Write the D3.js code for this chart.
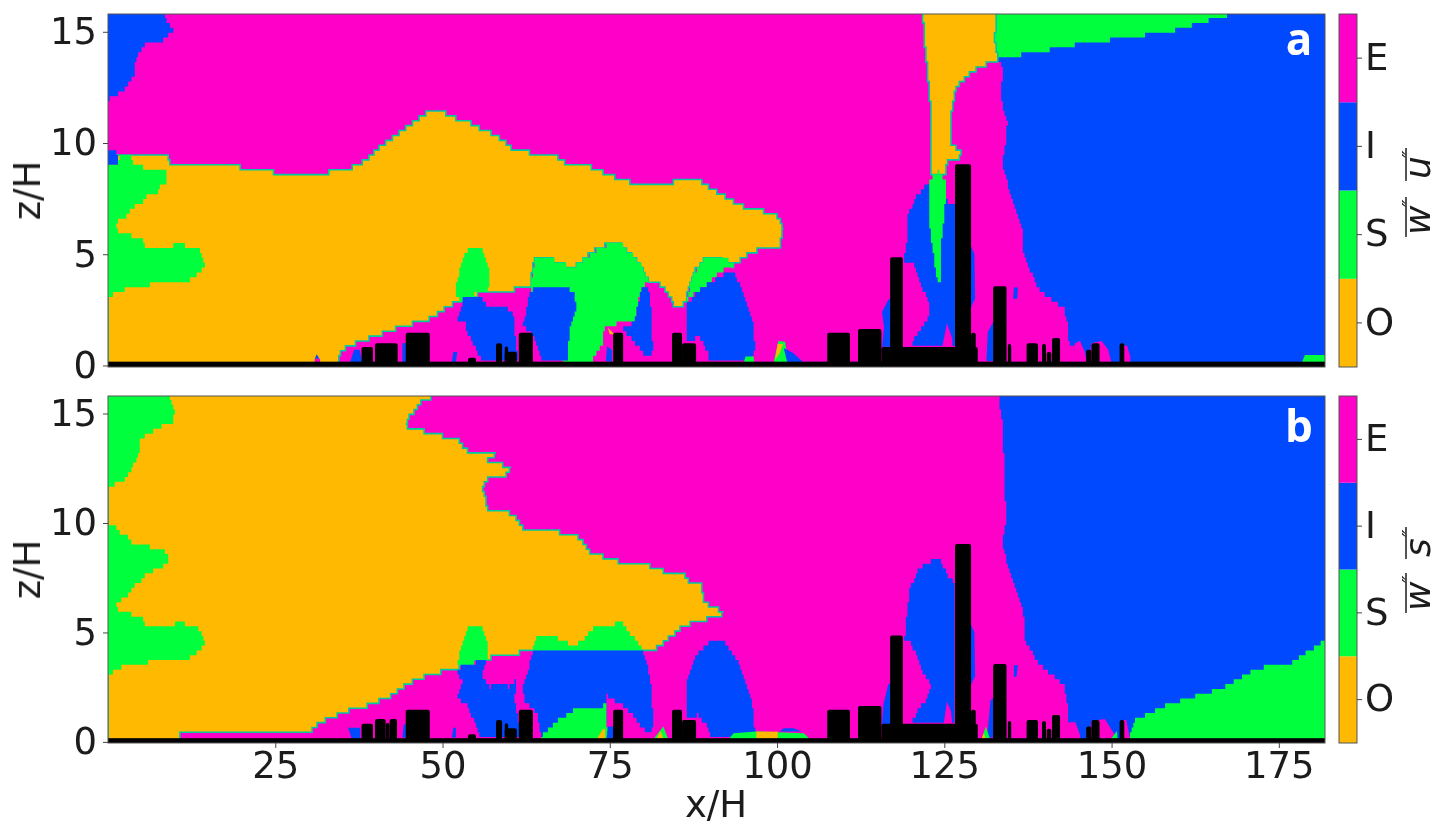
<!DOCTYPE html>
<html>
<head>
<meta charset="utf-8">
<script src="https://cdn.jsdelivr.net/npm/d3@7"></script>
<style>
html, body { margin: 0; padding: 0; background: #fff; }
svg { display: block; }
text { font-family: "DejaVu Sans"; fill: #1a1a1a; }
</style>
</head>
<body>
<script>
// quadrant categories, bottom to top of the colour bar
var categories = ['O', 'S', 'I', 'E'];
var categoryColors = ['#ffb900', '#00ff3c', '#0048ff', '#ff00c8'];
var zTicks = [0, 5, 10, 15];
var xTicks = [25, 50, 75, 100, 125, 150, 175];

// all outlines below are [x/H, z/H]

// panel a
var aBlueRight = [[132.4,15.8],[132.8,13.73],[133.8,13.4],[133.4,12.05],[134.4,10.87],[134.3,10.1],[133.6,9.14],[135,7.57],[136,6.6],[136.8,5.94],[136.8,5.18],[137.8,4.28],[139,3.47],[141,2.94],[142.8,2.58],[143.5,1.9],[143.4,1.07],[144.6,0.7],[145.3,0.25],[145.3,0],[182,0],[182,15.8]];
var aGreenWedge = [[132.7,15.8],[168.2,15.8],[165.5,15.57],[163.2,15.42],[160.5,15.12],[158,14.97],[152.8,14.75],[148,14.56],[143.5,14.37],[139.8,14.12],[135.6,13.92],[132.9,13.73],[132.4,14.5]];
var aOrangeMain = [[0,9.36],[3.5,9.36],[9,9.36],[9.3,9.1],[19.3,9.1],[19.7,8.9],[22.2,8.9],[22.4,8.7],[24.7,8.7],[25,8.47],[32.7,8.47],[32.9,8.7],[34.7,8.7],[35,8.9],[36.4,8.9],[36.6,9.1],[37.9,9.1],[39.2,9.44],[40.4,9.75],[42.6,10.26],[44.7,10.7],[46.9,11.2],[47.8,11.43],[50.4,11.43],[50.7,11.2],[53.6,11],[55.1,10.7],[56.8,10.56],[58.6,10.2],[60.1,9.8],[62,9.66],[64.3,9.44],[67.3,9.35],[67.6,9.14],[70.1,9.1],[72.8,8.85],[75,8.54],[78.8,8.17],[84.3,8.1],[84.5,8.29],[88.5,8.29],[90.5,7.87],[93.7,7.35],[96,7],[98.7,6.9],[100.4,6.67],[100.9,6.08],[100.4,5.36],[97,5.18],[95.5,4.95],[93.4,4.5],[90.5,4.9],[89,4.73],[87.5,4.14],[86.3,2.8],[85,2.58],[83.3,3.38],[82.5,3.7],[80.8,3.75],[79.5,4.6],[76.5,5.5],[75.5,5.5],[73.3,5.27],[70.6,4.64],[69.5,4.37],[67.3,4.64],[65.6,4.87],[63.8,4.87],[63.1,3.52],[61.1,3.52],[60.5,3.34],[57.1,3.34],[53,3],[50.6,2.58],[48.6,2.13],[44.7,1.8],[42.6,1.6],[39.2,1.23],[36.2,0.9],[34.7,0.55],[34.4,0.1],[34.4,0],[0,0]];
var aOrangeFunnel = [[121.8,15.8],[132.7,15.8],[132.6,14.6],[133,13.73],[130.8,13.47],[128.4,13.03],[126.6,12.35],[126.1,11.46],[126,10.04],[127.6,9.48],[126.6,9.14],[125.6,9.2],[125,8.54],[124.1,8.65],[122.9,8.47],[122.9,11.9],[122.1,14.45]];
var aGreenLeft = [[0,9.04],[1.5,9.04],[1.8,9.48],[3.3,9.44],[3.7,9.1],[5,9.08],[5.2,8.9],[7.8,8.86],[8.9,8.63],[8.8,8.24],[7.8,8.18],[7.5,7.78],[6,7.74],[5.2,7.33],[4.2,7.33],[3.7,6.97],[3,6.88],[2.4,6.57],[1.5,6.52],[1.15,6.3],[1.5,5.95],[3.3,5.94],[3.5,5.7],[5.2,5.63],[5.5,5.33],[9.7,5.33],[10,5.49],[11.2,5.49],[11.5,5.33],[13.3,5.31],[14,4.95],[14.5,4.59],[14,4.2],[12.3,3.92],[12,3.76],[6.3,3.71],[6,3.53],[3.5,3.52],[1.8,3.31],[0.55,3.16],[0.1,2.94],[0,2.9]];
var aBlueTop = [[0,15.8],[8.2,15.8],[9.7,15.04],[8.1,14.6],[5.5,14.4],[4.8,14.15],[4.2,13.8],[4,13.1],[3.3,12.7],[2.2,12.3],[0.8,12.1],[0,11.9]];
var aBlueCorner = [[0,9.66],[1.2,9.66],[1.6,9.1],[0,9.1]];
var aGreenBlob1 = [[57.1,4.15],[56.6,4.73],[55.9,5.27],[53.8,5.31],[53.1,4.73],[52.3,3.97],[51.9,3.31],[52.6,2.8],[55.1,3.25],[56.8,3.25]];
var aGreenBlob2 = [[63.1,3.43],[63.8,4.82],[65.6,4.88],[67.3,4.65],[69.5,4.37],[70.6,4.65],[73.3,5.27],[75.5,5.49],[76.5,5.49],[79.5,4.6],[80.7,3.76],[79.8,3.53],[79.2,2.8],[78.8,1.96],[76.5,1.9],[74.3,1.68],[73.8,0.84],[72.5,0.25],[72.5,0],[68,0],[66,3]];
var aGreenBlob3 = [[90.5,4.9],[92.5,4.8],[93.4,4.5],[92,4.28],[90,3.76],[88,3.31],[86.5,2.9],[87.5,4.14],[89,4.73]];
var aBlue1 = [[52.1,2.04],[53.1,2.98],[55.9,3.16],[56.1,2.86],[57.4,2.53],[59.3,2.67],[60.8,2.19],[60.8,1.46],[61.3,0.17],[56.1,0.17],[55.1,0.7],[53.6,1.59],[53.6,1.9]];
var aBlue2 = [[63.1,3.39],[67.8,3.61],[69.5,3.31],[70.1,2.64],[69.1,1.74],[68.6,0.17],[64.8,0.17],[64.1,1],[63.3,1.46],[62,1.74],[62.6,2.64]];
var aBlue3 = [[80,3.61],[80.7,3.61],[81.3,2.35],[81.4,0.56],[80.3,0.47],[77,1.68],[78.8,1.96],[79.2,2.8]];
var aBlue4 = [[86.5,2.71],[88,3.31],[90.5,3.83],[93.2,4.28],[95,3.25],[96.5,1.74],[96.7,0.84],[96.2,0.17],[90,0.17],[89.7,0.56],[88.5,1.29],[86.5,1.07]];
var aBlueTower = [[122.7,8.18],[120.9,7.65],[119.6,6.75],[119.3,5.18],[118.9,4.7],[120.4,4.65],[121.4,3.69],[123,2.64],[122.4,1.96],[121.1,1.51],[120.1,0.84],[127,0.84],[127,7.1],[125.3,7.42],[125,7.87],[125.4,8.18]];
var aGreenSliver = [[124.1,8.69],[125.4,8.18],[125.1,7.12],[124.6,5.63],[124.4,3.83],[123.9,3.83],[123.1,5.63],[122.7,6.52],[122.8,8.4]];
var aSmall = [
  ['E', [[125.4,1.9],[124.7,0.84],[126.2,0.84],[126.2,1.2]]],
  ['I', [[128.8,5.5],[129.5,5],[129.6,3],[128.8,2.5]]],
  ['I', [[115.7,0.84],[116,1.7],[115.7,2.4],[116.6,2.94],[117.5,3.1],[117.5,0.84]]],
  ['I', [[131.3,0.2],[131.5,1.5],[132.4,2],[132.4,0.2]]],
  ['I', [[135.3,3],[135.4,3.5],[136,3.5],[135.9,3]]],
  ['E', [[146.5,0.1],[147,1],[148.5,1.1],[149.5,0.7],[150,0.1]]],
  ['E', [[151.7,0.1],[151.7,0.9],[152.3,0.9],[152.8,0.4],[152.8,0.1]]],
  ['E', [[144.3,0.1],[144.5,1],[145.3,1.1],[146,0.6],[146.3,0.1]]],
  ['S', [[178.4,0.1],[178.9,0.47],[182,0.47],[182,0.1]]],
  ['E', [[30.9,0.1],[30.9,0.3],[31.7,0.3],[31.7,0.1]]],
  ['I', [[30.9,0.3],[31.2,0.5],[31.6,0.3]]],
  ['I', [[36.2,0.15],[36.8,0.7],[37.6,0.7],[38,0.15]]],
  ['I', [[44,0.15],[44,1],[44.7,1],[44.7,0.15]]],
  ['I', [[51.4,0.15],[51.6,0.6],[52.2,0.6],[52,0.15]]],
  ['I', [[74.4,0.2],[74.6,0.85],[75.3,0.7],[75.3,0.17]]],
  ['O', [[74.7,1.7],[75.7,1.4],[75,1.4]]],
  ['S', [[99.5,0.15],[100.2,1.1],[101.2,1.07],[101.7,0.15]]],
  ['O', [[99.7,0.25],[100.1,0.96],[100.9,0.96],[100.4,0.56]]],
  ['I', [[101,0.78],[102.4,0.56],[103.9,0.15],[101.5,0.15]]],
  ['S', [[95,0.1],[95.3,0.4],[96.5,0.4],[96.6,0.1]]]
];

// panel b
var bBlueRight = [[133.1,15.78],[133.8,14.2],[134,11.5],[134.3,10.1],[133.6,9.06],[135.1,7.39],[136.8,6],[137.1,4.65],[138.6,3.74],[140.8,3.13],[143,2.52],[143.5,1.46],[143.6,0.8],[144,0],[182,0],[182,15.78]];
var bGreenRight = [[152.4,0.1],[153.5,1.08],[155.2,1.23],[157.7,1.61],[162.2,2.07],[166.5,2.45],[169.2,2.9],[171.7,3.36],[176.7,3.59],[181.9,4.65],[182,0]];
var bOrangeMain = [[0,15.78],[48.9,15.78],[47.1,15.6],[46.1,15.2],[45.3,14.96],[44.9,14.68],[44.6,14.41],[46.4,14.35],[46.6,14.2],[49.9,14.15],[50.1,13.95],[52.4,13.92],[52.6,13.59],[54.4,13.13],[57.9,13.09],[56.8,12.98],[56.8,12.68],[60.2,12.63],[60,12.4],[59.5,12.18],[57.1,12.13],[55.9,11.64],[56.6,10.88],[56.9,10.58],[59.3,10.55],[60.8,10.35],[62,9.79],[67.3,9.7],[67.6,9.52],[69.6,9.44],[70.6,9.29],[71.3,8.91],[72.3,8.6],[73.5,8.5],[76.5,8.22],[78.8,8.07],[82.8,8],[83,7.81],[85.8,7.77],[86.5,7.46],[87.3,7.2],[88.7,7.16],[89.1,6.4],[90.5,6.1],[92,6],[91.5,5.71],[90.8,5.69],[87.3,5.44],[85.8,5.2],[82,4.27],[80.2,4.12],[70.6,4.12],[63.5,4.2],[62.8,4.12],[59.1,3.97],[56.1,3.77],[52.1,3.37],[50.4,3.25],[46.6,2.9],[45.1,2.68],[42.2,2.06],[39.2,1.69],[36.2,1.43],[33.2,1.08],[30.7,0.64],[30.5,0.42],[10.8,0.42],[10.8,0],[0,0]];
var bGreenTop = [[0,15.78],[9,15.78],[10,15.14],[9.7,14.6],[8.2,14.54],[8,14.3],[6,14.1],[4.8,13.8],[4.6,13.2],[3.7,12.5],[2.5,12],[0.8,11.7],[0,11.5]];
var bGreenLeft = [[0,9.94],[1,9.9],[1.8,9.5],[2.8,9.44],[3.7,9.09],[6,9.06],[6.3,8.88],[7.8,8.84],[9,8.53],[8.9,8.22],[7.5,7.84],[6,7.77],[5.2,7.39],[4.2,7.31],[3.7,6.93],[2.4,6.52],[1.3,6.44],[1.15,6.25],[1.5,5.9],[3.3,5.84],[5.2,5.71],[5.5,5.29],[9.7,5.29],[10,5.52],[11.2,5.52],[11.5,5.29],[13.3,5.24],[14,4.97],[14.5,4.57],[14,4.2],[12.3,3.89],[12,3.77],[6.3,3.77],[6,3.6],[3.5,3.56],[1.8,3.37],[0.55,3.16],[0.1,2.96],[0,2.9]];
var bGreenBlob1 = [[56.8,3.89],[56.8,4.57],[55.9,5.26],[53.9,5.26],[52.9,4.5],[52.1,3.43],[56.4,3.77]];
var bGreenBlob2 = [[63.3,4.2],[64.1,4.83],[66.5,4.83],[69.5,4.38],[70.6,4.57],[72.8,5.26],[75.3,5.34],[76.8,5.49],[77.8,5.03],[79,4.65],[80.2,4.12],[70.6,4.12]];
var bBlueWide = [[63.6,4.2],[70.6,4.12],[80,4.07],[81,2.98],[81.5,1.15],[81.3,0.47],[80.5,0.47],[77.5,1.54],[76,1.84],[74.5,2.14],[74.3,0.1],[64.8,0.27],[64.1,1.3],[62.3,1.9],[62,2.44]];
var bGreenLow = [[64.8,0.27],[66.5,0.82],[69.5,1.46],[70.6,1.46],[74.5,1.69],[74.7,0.1],[64.8,0.1]];
var bBlue1 = [[52.1,3.36],[56.6,3.77],[56.1,3.21],[56.1,2.83],[57.1,2.52],[59.3,2.67],[59.8,2.45],[61,2.83],[60.8,1.92],[61.3,1],[61.6,0.24],[55.6,0.24],[54.9,0.85],[53.6,1.76],[52.1,1.99],[52.9,2.75]];
var bBlueHump = [[86.6,2.83],[88,4.04],[89.7,4.53],[92,4.57],[94,3.74],[95.2,2.83],[96.5,1.46],[96.7,0.24],[90,0.24],[89.7,0.7],[88.2,1.23],[86.5,1]];
var bBlueTower = [[123.9,8.42],[122.4,8.15],[121.1,7.84],[119.9,7],[119.4,5.71],[119.1,4.65],[119.9,4.62],[121.4,3.43],[123,2.6],[122.4,1.92],[120.9,1.38],[120.1,0.82],[126.4,0.82],[126.6,7.23],[125.4,7.69],[124.6,8.22]];
var bSmall = [
  ['E', [[124.9,0.82],[125.4,1.84],[126,1.4],[126.2,0.82]]],
  ['I', [[128.8,5.5],[129.5,5],[129.6,3],[128.8,2.5]]],
  ['I', [[115.7,0.82],[115.9,1.7],[116.6,2.6],[117.5,2.9],[117.5,0.82]]],
  ['I', [[131.4,0.2],[131.9,1.9],[132.3,2],[132.3,0.2]]],
  ['S', [[130.6,0.15],[131.2,0.7],[131.8,0.15]]],
  ['O', [[130.6,0.15],[130.9,0.4],[131.2,0.15]]],
  ['I', [[135.4,2.98],[135.4,3.5],[136,3.5],[135.8,2.98]]],
  ['E', [[143.5,0.1],[143.6,0.9],[144.6,0.9],[145.3,0.3],[145.3,0.1]]],
  ['E', [[146.5,0.1],[147,0.95],[149,1.05],[150,0.55],[151,0.1]]],
  ['S', [[149.8,0.1],[150.8,0.5],[150.9,0.1]]],
  ['E', [[151.5,0.1],[151.7,1],[152.2,1],[152.8,0.1]]],
  ['I', [[51.4,0.2],[51.6,0.65],[52,0.65],[52,0.2]]],
  ['I', [[35.9,0.65],[37.7,0.65],[37.7,0.1],[36.5,0.1]]],
  ['I', [[44,0.2],[44.2,0.8],[44.7,0.8],[44.7,0.2]]],
  ['I', [[74.5,0.1],[74.7,0.7],[75.5,0.7],[75.5,0.1]]],
  ['O', [[73,0.1],[74,0.6],[74.3,0.6],[74.3,0.1]]],
  ['S', [[92.7,0.1],[93.5,0.4],[96.9,0.47],[104,0.4],[105,0.1]]],
  ['O', [[96.9,0.1],[96.9,0.47],[100.1,0.47],[100.1,0.1]]],
  ['I', [[100.4,0.47],[101,0.62],[102.5,0.62],[103.7,0.47]]],
  ['S', [[81.6,0.15],[83,0.7],[83.7,0.15]]],
  ['O', [[82,0.15],[82.6,0.5],[83,0.15]]]
];

var aRegions = [['I', aBlueRight], ['S', aGreenWedge], ['O', aOrangeMain], ['O', aOrangeFunnel], ['S', aGreenLeft], ['I', aBlueTop], ['I', aBlueCorner], ['S', aGreenBlob1], ['S', aGreenBlob2], ['S', aGreenBlob3], ['I', aBlue1], ['I', aBlue2], ['I', aBlue3], ['I', aBlue4], ['I', aBlueTower], ['S', aGreenSliver]];
var bRegions = [['I', bBlueRight], ['S', bGreenRight], ['O', bOrangeMain], ['S', bGreenTop], ['S', bGreenLeft], ['S', bGreenBlob1], ['S', bGreenBlob2], ['I', bBlueWide], ['S', bGreenLow], ['I', bBlue1], ['I', bBlueHump], ['I', bBlueTower]];

// buildings as [x start, x end, height]
var buildings = [[53.8,55,0.35],[58,58.9,1],[59.3,59.8,0.85],[59.3,61.1,0.62],[61.4,63.5,1.47],[75.5,77,1.47],[84.3,85.8,1.47],[85.8,87.9,1],[107.5,110.9,1.47],[112.1,115.6,1.64],[115.6,130,0.83],[116.9,118.8,4.86],[126.6,129,9.04],[129,129.7,1.47],[132.3,134.3,3.56],[134.5,135,0.96],[137.3,139,1],[139.6,140.2,0.96],[140.3,141,0.6],[141.1,142.3,1.23],[146.2,147,0.7],[147,148.2,1],[151.2,151.9,1],[37.9,39.6,0.83],[44.5,48.1,1.47]];
var aLowBuildings = [[39.9,43.3,1]];
var bLowBuildings = [[39.9,41.5,1.05],[41.5,42.1,0.86],[42.1,43.2,1.05]];

var width = 1437, height = 826;
var svg = d3.select('body').append('svg').attr('width', width).attr('height', height);

var defs = svg.append('defs');
// the reference is a slightly soft raster
defs.append('filter').attr('id', 'soft')
    .append('feGaussianBlur').attr('stdDeviation', 0.55);
var root = svg.append('g').attr('filter', 'url(#soft)');

var color = d3.scaleOrdinal().domain(categories).range(categoryColors);
var x = d3.scaleLinear().domain([0, 181.9]).range([108, 1325]);

// the field is on a mesh, so edges come out as stairs
var dx = 0.25, dz = 0.22;
function stairs(points) {
    var out = [];
    points.forEach(function(p, i) {
        var q = points[(i + 1) % points.length];
        var n = Math.ceil(Math.max(Math.abs(q[0] - p[0]) / 0.1, Math.abs(q[1] - p[1]) / 0.05)) || 1;
        for (var k = 0; k < n; k++) {
            var sx = Math.round((p[0] + (q[0] - p[0]) * k / n) / dx) * dx;
            var sz = Math.round((p[1] + (q[1] - p[1]) * k / n) / dz) * dz;
            var last = out[out.length - 1];
            if (!last) { out.push([sx, sz]); continue; }
            if (last[0] !== sx && last[1] !== sz) out.push([sx, last[1]]);
            if (last[0] !== sx || last[1] !== sz) out.push([sx, sz]);
        }
    });
    return out;
}

function styleAxis(axis) {
    axis.select('.domain').remove();
    axis.selectAll('line').attr('stroke', '#444');
    axis.selectAll('text').attr('font-size', 37).attr('font-family', 'DejaVu Sans').attr('fill', '#1a1a1a');
}

function panel(name, top, bottom, zMin, nameDrop, regions, small, lowBuildings) {
    var z = d3.scaleLinear().domain([zMin, 15.8]).range([bottom, top]);
    var line = d3.line().x(function(d) { return x(d[0]); }).y(function(d) { return z(d[1]); });

    defs.append('clipPath').attr('id', 'clip' + name).append('rect')
        .attr('x', x.range()[0]).attr('y', top)
        .attr('width', x.range()[1] - x.range()[0]).attr('height', bottom - top);

    var g = root.append('g').attr('clip-path', 'url(#clip' + name + ')');

    g.append('rect')
        .attr('x', x.range()[0]).attr('y', top)
        .attr('width', x.range()[1] - x.range()[0]).attr('height', bottom - top)
        .attr('fill', color('E'));

    g.selectAll('.region').data(regions).enter().append('path')
        .attr('class', 'region')
        .attr('d', function(d) { return line(stairs(d[1])) + 'Z'; })
        .attr('fill', function(d) { return color(d[0]); })
        // thin transition line where orange meets magenta
        .attr('stroke', function(d) { return d[0] === 'O' ? '#00c8a0' : 'none'; })
        .attr('stroke-width', 1.6);

    g.selectAll('.small').data(small).enter().append('path')
        .attr('class', 'small')
        .attr('d', function(d) { return line(d[1]) + 'Z'; })
        .attr('fill', function(d) { return color(d[0]); });

    // ground
    g.append('rect')
        .attr('x', x(0)).attr('y', z(0.17))
        .attr('width', x(182) - x(0)).attr('height', z(zMin) - z(0.17))
        .attr('fill', '#000');

    g.selectAll('.building').data(buildings.concat(lowBuildings)).enter().append('rect')
        .attr('class', 'building')
        .attr('x', function(d) { return x(d[0]); })
        .attr('y', function(d) { return z(d[2]); })
        .attr('width', function(d) { return x(d[1]) - x(d[0]); })
        .attr('height', function(d) { return z(0) - z(d[2]); })
        .attr('rx', 2)
        .attr('fill', '#000');

    root.append('rect')
        .attr('x', x.range()[0]).attr('y', top)
        .attr('width', x.range()[1] - x.range()[0]).attr('height', bottom - top)
        .attr('fill', 'none').attr('stroke', '#555').attr('stroke-width', 1);

    var yAxis = root.append('g').attr('transform', 'translate(' + x.range()[0] + ',0)')
        .call(d3.axisLeft(z).tickValues(zTicks).tickSize(5).tickPadding(6));
    styleAxis(yAxis);

    root.append('text')
        .attr('transform', 'translate(40,' + (top + bottom) / 2 + ') rotate(-90)')
        .attr('text-anchor', 'middle')
        .attr('font-size', 37)
        .text('z/H');

    root.append('text')
        .attr('x', 1299).attr('y', top + nameDrop)
        .attr('text-anchor', 'middle')
        .attr('font-size', 44)
        .attr('font-weight', 700)
        .style('font-family', '"Open Sans"')
        .style('fill', '#fff')
        .text(name);

    // colour bar
    var band = d3.scaleBand().domain(categories.slice().reverse()).range([top, bottom]);
    root.selectAll('.seg' + name).data(categories).enter().append('rect')
        .attr('class', 'seg' + name)
        .attr('x', 1339).attr('y', function(d) { return band(d); })
        .attr('width', 18).attr('height', band.bandwidth())
        .attr('fill', function(d) { return color(d); });
    root.append('rect')
        .attr('x', 1339).attr('y', top).attr('width', 18).attr('height', bottom - top)
        .attr('fill', 'none').attr('stroke', '#555').attr('stroke-width', 1);
    var barAxis = root.append('g').attr('transform', 'translate(1357,0)')
        .call(d3.axisRight(band).tickSize(5).tickPadding(3));
    styleAxis(barAxis);

    return z;
}

panel('a', 14, 367, -0.07, 41, aRegions, aSmall, aLowBuildings);
panel('b', 396, 743, -0.05, 46, bRegions, bSmall, bLowBuildings);

var xAxis = root.append('g').attr('transform', 'translate(0,743)')
    .call(d3.axisBottom(x).tickValues(xTicks).tickSize(5).tickPadding(4));
styleAxis(xAxis);

root.append('text')
    .attr('x', 716).attr('y', 817)
    .attr('text-anchor', 'middle')
    .attr('font-size', 37)
    .text('x/H');

// colour bar titles: overbar w'' with overbar u'' or s''
function barTitle(cy, second, secondStart, secondBar) {
    var t = root.append('g').attr('transform', 'translate(1430,' + cy + ') rotate(-90)');
    [[-43, 'w', 40], [secondStart, second, secondBar]].forEach(function(d) {
        t.append('text').attr('x', d[0]).attr('y', 0)
            .attr('font-size', 36).attr('font-style', 'italic').text(d[1]);
        t.append('line')
            .attr('x1', d[0] - 2).attr('x2', d[0] - 2 + d[2])
            .attr('y1', -24).attr('y2', -24)
            .attr('stroke', '#1a1a1a').attr('stroke-width', 1.5);
        t.append('text').attr('x', d[0] + d[2] - 12).attr('y', -14)
            .attr('font-size', 20).attr('font-style', 'italic').text('\u2033');
    });
}
barTitle(192, 'u', 13, 33);
barTitle(568, 's', 11, 32);
</script>
</body>
</html>
